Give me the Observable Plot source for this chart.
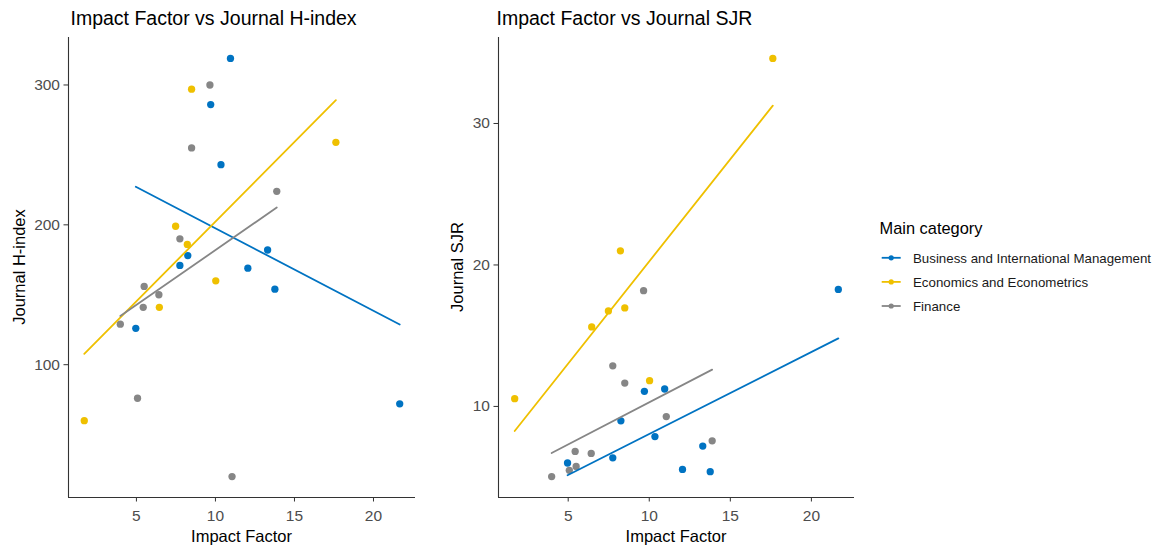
<!DOCTYPE html>
<html>
<head>
<meta charset="utf-8">
<script src="https://cdn.jsdelivr.net/npm/d3@7"></script>
<script src="https://cdn.jsdelivr.net/npm/@observablehq/plot@0.6"></script>
<style>
  html, body { margin: 0; padding: 0; background: #fff; }
  #wrap { position: relative; width: 1166px; height: 546px; overflow: hidden; font-family: "Liberation Sans", Arial, sans-serif; }
  .panel { position: absolute; top: 0; }
  #overlay { position: absolute; left: 0; top: 0; pointer-events: none; }
</style>
</head>
<body>
<div id="wrap">
  <div class="panel" id="left" style="left:0px"></div>
  <div class="panel" id="right" style="left:430px"></div>
  <svg id="overlay" width="1166" height="546"></svg>
</div>
<script>
// ---- Data ----
const categories = ["Business and International Management", "Economics and Econometrics", "Finance"];
const colors = ["#0073C2", "#EFC000", "#868686"];

const businessIF  = [4.96, 7.75, 8.25, 9.70, 10.35, 10.95, 12.05, 13.30, 13.76, 21.66];
const businessH   = [126, 171, 178, 286, 243, 319, 169, 182, 154, 72];
const businessSJR = [6.0, 6.37, 8.98, 11.07, 7.87, 11.23, 5.55, 7.2, 5.39, 18.27];

const economicsIF  = [1.70, 6.45, 7.48, 8.22, 8.49, 10.02, 17.62];
const economicsH   = [60, 141, 199, 186, 297, 160, 259];
const economicsSJR = [10.55, 15.62, 16.75, 21.0, 16.96, 11.82, 34.6];

const financeIF  = [3.98, 5.07, 5.43, 5.49, 6.42, 7.75, 8.49, 9.65, 11.05, 13.88];
const financeH   = [129, 76, 141, 156, 150, 190, 255, 300, 20, 224];
const financeSJR = [5.04, 5.48, 6.82, 5.76, 6.68, 12.87, 11.65, 18.18, 9.28, 7.57];

const xTicks = [5, 10, 15, 20];
const hTicks = [100, 200, 300];
const sjrTicks = [10, 20, 30];

const titles = ["Impact Factor vs Journal H-index", "Impact Factor vs Journal SJR"];
const xLabel = "Impact Factor";
const yLabels = ["Journal H-index", "Journal SJR"];
const legendTitle = "Main category";

// ---- Build table ----
const groupIF = [businessIF, economicsIF, financeIF];
const groupH = [businessH, economicsH, financeH];
const groupSJR = [businessSJR, economicsSJR, financeSJR];
const rows = categories.flatMap((c, i) =>
  groupIF[i].map((v, j) => ({cat: c, IF: v, H: groupH[i][j], SJR: groupSJR[i][j]})));

const FONT = '"Liberation Sans", Arial, sans-serif';

function expand([a, b]) { const r = b - a; return [a - 0.05 * r, b + 0.05 * r]; }

function panel(yKey, yTicks, width, marginLeft, marginRight) {
  const xd = expand(d3.extent(rows, d => d.IF));
  const yd = expand(d3.extent(rows, d => d[yKey]));
  return Plot.plot({
    width, height: 546,
    marginLeft, marginRight, marginTop: 37, marginBottom: 49,
    x: {domain: xd},
    y: {domain: yd},
    color: {domain: categories, range: colors},
    style: {fontFamily: FONT, fontSize: "15.5px", color: "#4d4d4d", background: "transparent", overflow: "visible"},
    marks: [
      Plot.axisX({ticks: xTicks, tickSize: 4.5, tickPadding: 7.5, label: null, stroke: "#333", fill: "#4d4d4d", fontSize: 15.5}),
      Plot.axisY({ticks: yTicks, tickSize: 4.5, tickPadding: 4, label: null, stroke: "#333", fill: "#4d4d4d", fontSize: 15.5}),
      Plot.ruleX([xd[0]], {stroke: "#333", strokeWidth: 1.1}),
      Plot.ruleY([yd[0]], {stroke: "#333", strokeWidth: 1.1}),
      Plot.dot(rows, {x: "IF", y: yKey, fill: "cat", r: 3.65}),
      Plot.linearRegressionY(rows, {x: "IF", y: yKey, stroke: "cat", ci: 0, strokeWidth: 1.8})
    ]
  });
}

document.getElementById("left").appendChild(panel("H", hTicks, 430, 68, 15));
document.getElementById("right").appendChild(panel("SJR", sjrTicks, 430, 68, 6));

// ---- Overlay texts and legend ----
const ov = d3.select("#overlay").style("font-family", FONT);
// titles
ov.selectAll("text.title").data(titles).join("text")
  .attr("class", "title")
  .attr("x", (d, i) => i === 0 ? 70.5 : 496.5)
  .attr("y", 25)
  .attr("font-size", 19.5)
  .attr("fill", "#000")
  .text(d => d);
// x axis titles
ov.selectAll("text.xlab").data([241.5, 676]).join("text")
  .attr("class", "xlab")
  .attr("x", d => d).attr("y", 541.5)
  .attr("text-anchor", "middle")
  .attr("font-size", 16.5).attr("fill", "#000")
  .text(xLabel);
// y axis titles
ov.selectAll("text.ylab").data(yLabels).join("text")
  .attr("class", "ylab")
  .attr("transform", (d, i) => `translate(${i === 0 ? 24.5 : 463},267) rotate(-90)`)
  .attr("text-anchor", "middle")
  .attr("font-size", 16.5).attr("fill", "#000")
  .text(d => d);
// legend
ov.append("text").attr("x", 879.5).attr("y", 234.3).attr("font-size", 16.4).attr("fill", "#000").text(legendTitle);
const items = ov.selectAll("g.item").data(categories).join("g")
  .attr("class", "item")
  .attr("transform", (d, i) => `translate(0,${257.8 + i * 24.1})`);
items.append("line").attr("x1", 881.7).attr("x2", 900.7).attr("y1", 0).attr("y2", 0)
  .attr("stroke", (d, i) => colors[i]).attr("stroke-width", 1.8);
items.append("circle").attr("cx", 891.2).attr("cy", 0).attr("r", 2.6)
  .attr("fill", (d, i) => colors[i]);
items.append("text").attr("x", 913).attr("y", 4.7).attr("font-size", 13.3).attr("fill", "#1a1a1a")
  .text(d => d);
</script>
</body>
</html>
